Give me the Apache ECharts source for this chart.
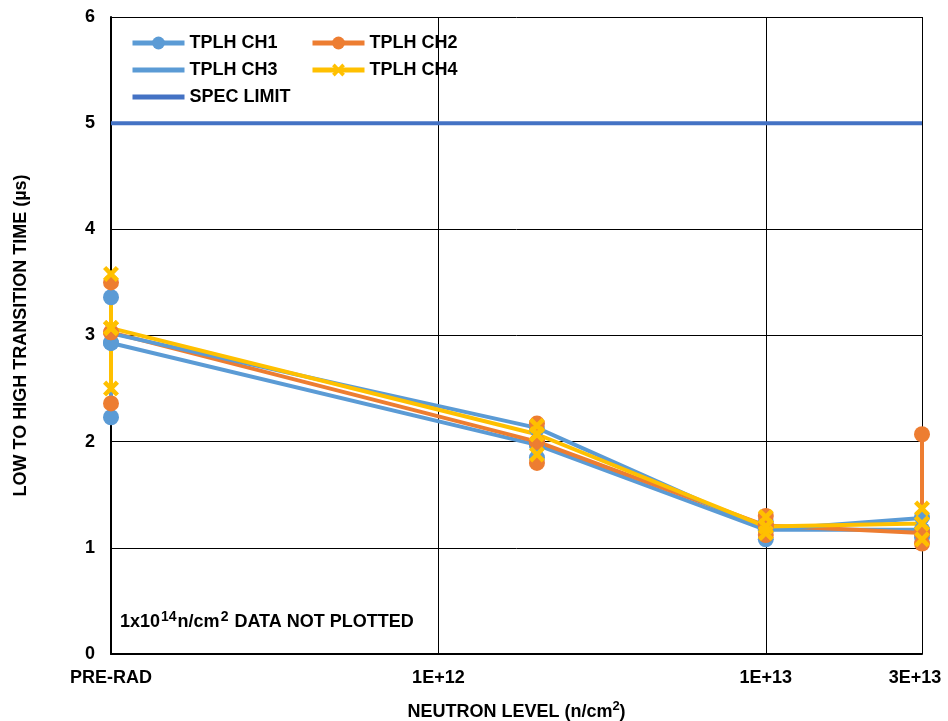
<!DOCTYPE html>
<html>
<head>
<meta charset="utf-8">
<script src="https://cdn.jsdelivr.net/npm/echarts@6/dist/echarts.min.js"></script>
<style>
html,body{margin:0;padding:0;background:#fff;}
#chart{width:948px;height:721px;}
</style>
</head>
<body>
<div id="chart"></div>
<script>
// Neutron levels (PRE-RAD plotted at the axis origin, 1E+11)
const levels = [1e11, 2e12, 1e13, 3e13];
const tickValues = [1e11, 1e12, 1e13, 3e13];
const tickLabels = ['PRE-RAD', '1E+12', '1E+13', '3E+13'];

// per-channel average / max / min (µs) at each level
const ch1Avg = [2.93, 1.97, 1.17, 1.17];
const ch1Max = [3.36, 2.12, 1.25, 1.29];
const ch1Min = [2.23, 1.85, 1.08, 1.10];

const ch2Avg = [3.03, 2.00, 1.21, 1.14];
const ch2Max = [3.50, 2.17, 1.30, 2.07];
const ch2Min = [2.36, 1.80, 1.12, 1.04];

const ch3Avg = [3.02, 2.13, 1.17, 1.28];
const ch3Max = [3.30, 2.15, 1.22, 1.30];
const ch3Min = [2.30, 1.88, 1.10, 1.12];

const ch4Avg = [3.07, 2.07, 1.20, 1.23];
const ch4Max = [3.58, 2.15, 1.29, 1.37];
const ch4Min = [2.50, 1.88, 1.14, 1.08];

const specLimit = 5;

function build(avg, max, min) {
  const out = [];
  for (let i = 0; i < levels.length; i++) {
    out.push([levels[i], avg[i]]);
    out.push([levels[i], max[i]]);
    out.push([levels[i], min[i]]);
    out.push([levels[i], avg[i]]);
  }
  return out;
}

const FONT = '"Liberation Sans", Arial, sans-serif';
const xSym = 'path://M0,2 L2,0 L5,3 L8,0 L10,2 L7,5 L10,8 L8,10 L5,7 L2,10 L0,8 L3,5 Z';

const chart = echarts.init(document.getElementById('chart'), null, {renderer: 'canvas'});
const lbl = {fontFamily: FONT, fontWeight: 'bold', fontSize: 18, color: '#000'};
const supStyle = {fontFamily: FONT, fontWeight: 'bold', fontSize: 14, color: '#000', verticalAlign: 'top', lineHeight: 24, padding: [0, 1, 0, 1]};

chart.setOption({
  animation: false,
  backgroundColor: '#fff',
  textStyle: {fontFamily: FONT},
  grid: {left: 111, right: 26, top: 17, bottom: 67, outerBoundsMode: 'none', containLabel: false},
  title: {
    text: '1x10{s|14}n/cm{s|2} DATA NOT PLOTTED',
    left: 115, top: 605,
    textStyle: {
      fontFamily: FONT, fontWeight: 'bold', fontSize: 18, color: '#000',
      rich: {s: supStyle}
    }
  },
  legend: [
    {
      orient: 'vertical', left: 125, top: 29, itemWidth: 52, itemHeight: 16, itemGap: 9,
      textStyle: lbl, lineStyle: {width: 5},
      data: [
        {name: 'TPLH CH1'},
        {name: 'TPLH CH3', itemStyle: {opacity: 0}},
        {name: 'SPEC LIMIT', itemStyle: {opacity: 0}}
      ]
    },
    {
      orient: 'vertical', left: 305, top: 29, itemWidth: 52, itemHeight: 16, itemGap: 9,
      textStyle: lbl, lineStyle: {width: 5},
      data: ['TPLH CH2', 'TPLH CH4']
    }
  ],
  xAxis: {
    type: 'log', logBase: 10, min: 1e11, max: 3e13,
    name: 'NEUTRON LEVEL (n/cm{s|2})',
    nameLocation: 'middle', nameGap: 46,
    nameTextStyle: {
      fontFamily: FONT, fontWeight: 'bold', fontSize: 18, color: '#000',
      rich: {s: {fontFamily: FONT, fontWeight: 'bold', fontSize: 13, color: '#000', verticalAlign: 'top', lineHeight: 24}}
    },
    axisLine: {show: true, lineStyle: {color: '#000', width: 2}},
    axisTick: {show: false},
    splitLine: {show: true, lineStyle: {color: '#000', width: 1}},
    axisLabel: Object.assign({}, lbl, {
      margin: 15,
      formatter: function (v) {
        const e = Math.log10(v);
        for (let i = 0; i < tickValues.length; i++) {
          if (Math.abs(Math.log10(tickValues[i]) - e) < 0.01) {
            return i === tickValues.length - 1 ? '{r|' + tickLabels[i] + '}' : tickLabels[i];
          }
        }
        return '';
      },
      rich: {r: {fontFamily: FONT, fontWeight: 'bold', fontSize: 18, color: '#000', padding: [0, 14, 0, 0]}}
    })
  },
  yAxis: {
    type: 'value', min: 0, max: 6, interval: 1,
    name: 'LOW TO HIGH TRANSITION TIME (µs)',
    nameLocation: 'middle', nameGap: 81,
    nameTextStyle: {fontFamily: FONT, fontWeight: 'bold', fontSize: 18, color: '#000'},
    axisLine: {show: true, lineStyle: {color: '#000', width: 2}},
    axisTick: {show: false},
    splitLine: {show: true, lineStyle: {color: '#000', width: 1}},
    axisLabel: Object.assign({}, lbl, {margin: 16})
  },
  series: [
    {
      name: 'TPLH CH1', type: 'line', data: build(ch1Avg, ch1Max, ch1Min),
      symbol: 'circle', symbolSize: 16, color: '#5B9BD5',
      lineStyle: {width: 4, color: '#5B9BD5'}, itemStyle: {color: '#5B9BD5'}
    },
    {
      name: 'TPLH CH2', type: 'line', data: build(ch2Avg, ch2Max, ch2Min),
      symbol: 'circle', symbolSize: 16, color: '#ED7D31',
      lineStyle: {width: 4, color: '#ED7D31'}, itemStyle: {color: '#ED7D31'}
    },
    {
      name: 'TPLH CH3', type: 'line', data: build(ch3Avg, ch3Max, ch3Min),
      symbol: 'none', color: '#5B9BD5',
      lineStyle: {width: 4, color: '#5B9BD5'}, itemStyle: {color: '#5B9BD5'}
    },
    {
      name: 'TPLH CH4', type: 'line', data: build(ch4Avg, ch4Max, ch4Min),
      symbol: xSym, symbolSize: 16, color: '#FFC000',
      lineStyle: {width: 4, color: '#FFC000'}, itemStyle: {color: '#FFC000'}
    },
    {
      name: 'SPEC LIMIT', type: 'line',
      data: [[levels[0], specLimit], [levels[levels.length - 1], specLimit]],
      symbol: 'none', color: '#4472C4',
      lineStyle: {width: 4, color: '#4472C4'}, itemStyle: {color: '#4472C4'}
    }
  ]
});
</script>
</body>
</html>
